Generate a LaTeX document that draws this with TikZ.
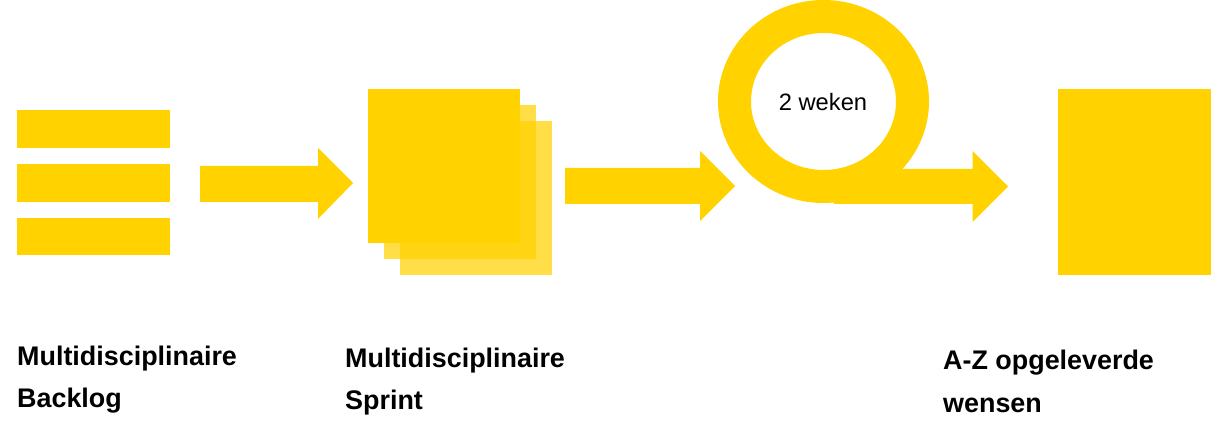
\documentclass[tikz,border=0pt]{standalone}
\usepackage{fontspec}
\setmainfont{Liberation Sans}
\definecolor{ey}{RGB}{255,210,0}
\begin{document}
\begin{tikzpicture}[x=1pt,y=-1pt,
  block/.style={fill=ey,draw=none},
  faded/.style={fill=ey,fill opacity=.72,draw=none},
  lbl/.style={anchor=base west,font=\fontsize{26.9}{30}\selectfont\bfseries,inner sep=0pt}]
\useasboundingbox (0,0) rectangle (1225,446);
\fill[white] (0,0) rectangle (1225,446);
\path[block] (17,110) rectangle (170,148);
\path[block] (17,164) rectangle (170,202);
\path[block] (17,218) rectangle (170,255);
\path[block] (200,166) -- (318,166) -- (318,148) -- (353,183) -- (318,219) -- (318,202) -- (200,202) -- cycle;
\path[faded] (400,121) rectangle (552,275);
\path[faded] (384,105) rectangle (536,259);
\path[block] (368,89) rectangle (520,243);
\path[block] (565,168) -- (700,168) -- (700,151) -- (735,186) -- (700,221) -- (700,204) -- (565,204) -- cycle;
\path[block,even odd rule] (823.5,101.5) ellipse[x radius=105.5,y radius=101.5] (823.5,101.5) ellipse[x radius=72.5,y radius=68.5];
\path[block] (838,169) -- (972.5,169) -- (972.5,151) -- (1008,186.5) -- (972.5,222) -- (972.5,204) -- (834,204) -- (834,180) -- cycle;
\path[block] (1058,89) rectangle (1211,275);
\node[anchor=center,font=\fontsize{23.7}{26}\selectfont,inner sep=0pt] (w) at (823,102) {2 weken};
\node[lbl] (a1) at (17,365) {Multidisciplinaire};
\node[lbl] (a2) at (17,407) {Backlog};
\node[lbl] (b1) at (345,367) {Multidisciplinaire};
\node[lbl] (b2) at (345,409) {Sprint};
\node[lbl] (c1) at (943,369) {A-Z opgeleverde};
\node[lbl] (c2) at (943,412) {wensen};
\end{tikzpicture}
\end{document}
